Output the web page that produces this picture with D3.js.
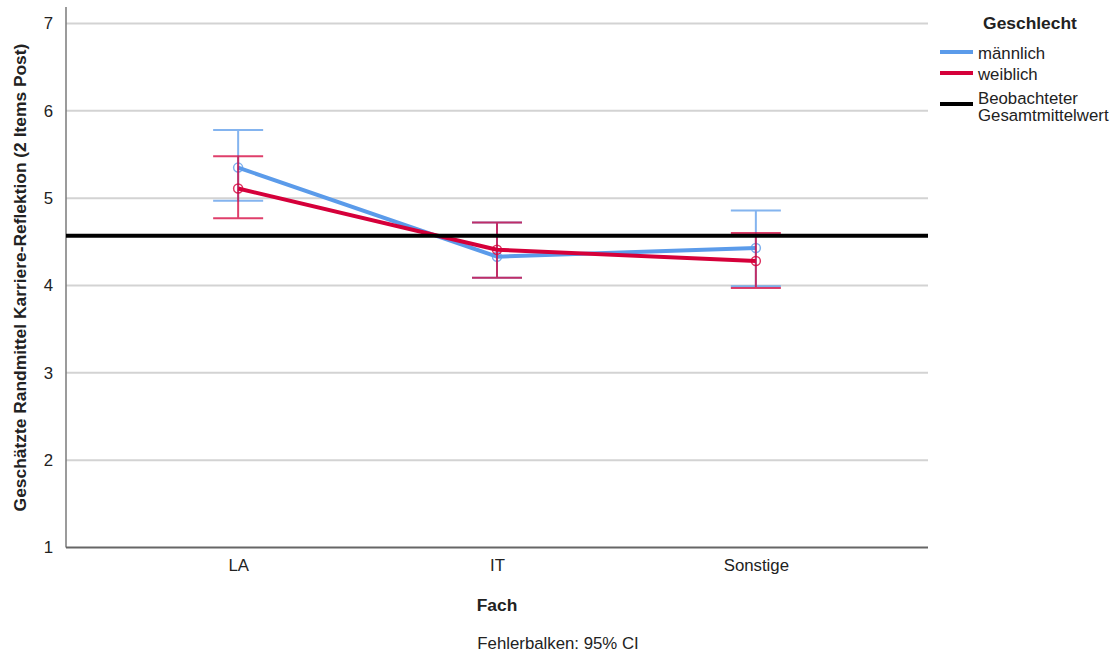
<!DOCTYPE html>
<html>
<head>
<meta charset="utf-8">
<script src="https://cdn.jsdelivr.net/npm/d3@7"></script>
<style>
  html, body { margin: 0; padding: 0; background: #fff; }
  svg { display: block; font-family: "Liberation Sans", Arial, sans-serif; }
</style>
</head>
<body>
<svg id="chart" width="1120" height="654"></svg>
<script>
// Fach categories and y ticks
const categories = ["LA", "IT", "Sonstige"];
const yTicks = [1, 2, 3, 4, 5, 6, 7];

// Estimated marginal means with 95% CI bounds per Geschlecht
const maleMean  = [5.35, 4.33, 4.43];
const maleLow   = [4.97, 4.09, 3.99];
const maleHigh  = [5.78, 4.72, 4.86];
const femaleMean = [5.11, 4.41, 4.28];
const femaleLow  = [4.77, 4.09, 3.97];
const femaleHigh = [5.48, 4.72, 4.60];

// Observed grand mean
const grandMean = 4.57;

const seriesNames = ["männlich", "weiblich"];

const svg = d3.select("#chart");
const plotLeft = 66, plotRight = 928, plotTop = 23.5, plotBottom = 547.5;
const fs = 16.8;
const fsBold = 17.4;

const x = d3.scalePoint().domain(categories).range([plotLeft, plotRight]).padding(0.665);
const y = d3.scaleLinear().domain([1, 7]).range([plotBottom, plotTop]);

const blue = "#5b9bea";
const red = "#d5003a";
const textCol = "#222";

// Gridlines
svg.append("g")
  .selectAll("line")
  .data(yTicks.filter(d => d > 1))
  .join("line")
  .attr("x1", plotLeft).attr("x2", plotRight)
  .attr("y1", d => y(d)).attr("y2", d => y(d))
  .attr("stroke", "#d3d3d3").attr("stroke-width", 2);

// Y axis
const yAxis = svg.append("g")
  .attr("transform", `translate(${plotLeft},0)`)
  .call(d3.axisLeft(y).tickValues(yTicks).tickSize(0).tickPadding(13).tickFormat(d3.format("d")));
yAxis.select(".domain").remove();
yAxis.selectAll("text").attr("font-size", fs).attr("fill", textCol)
  .attr("font-family", "Liberation Sans, Arial, sans-serif");
svg.append("line")
  .attr("x1", plotLeft).attr("x2", plotLeft).attr("y1", 7).attr("y2", plotBottom)
  .attr("stroke", "#7a7a7a").attr("stroke-width", 1.5);

// X axis
const xAxis = svg.append("g")
  .attr("transform", `translate(0,${plotBottom})`)
  .call(d3.axisBottom(x).tickSize(0).tickPadding(12));
xAxis.select(".domain").remove();
xAxis.selectAll("text").attr("font-size", fs).attr("fill", textCol)
  .attr("font-family", "Liberation Sans, Arial, sans-serif");
svg.append("line")
  .attr("x1", plotLeft).attr("x2", plotRight).attr("y1", plotBottom).attr("y2", plotBottom)
  .attr("stroke", "#666").attr("stroke-width", 2);

// Axis titles
svg.append("text")
  .attr("transform", `translate(26,${(plotTop + plotBottom) / 2 - 8}) rotate(-90)`)
  .attr("text-anchor", "middle")
  .attr("font-size", fsBold).attr("font-weight", "bold").attr("fill", textCol)
  .text("Geschätzte Randmittel Karriere-Reflektion (2 Items Post)");

svg.append("text")
  .attr("x", x("IT")).attr("y", 611)
  .attr("text-anchor", "middle")
  .attr("font-size", fsBold).attr("font-weight", "bold").attr("fill", textCol)
  .text("Fach");

svg.append("text")
  .attr("x", 558).attr("y", 649)
  .attr("text-anchor", "middle")
  .attr("font-size", fs).attr("fill", textCol)
  .text("Fehlerbalken: 95% CI");

// Series
const series = [
  { name: seriesNames[0], color: blue, mean: maleMean, low: maleLow, high: maleHigh },
  { name: seriesNames[1], color: red, mean: femaleMean, low: femaleLow, high: femaleHigh }
];

const capHalf = 25;
series.forEach(s => {
  const g = svg.append("g");
  const pts = categories.map((c, i) => ({ c, m: s.mean[i], lo: s.low[i], hi: s.high[i] }));
  // Error bars
  const eb = g.append("g").attr("stroke", s.color).attr("stroke-width", 2).attr("opacity", 0.75);
  eb.selectAll("line.v").data(pts).join("line").attr("class", "v")
    .attr("x1", d => x(d.c)).attr("x2", d => x(d.c))
    .attr("y1", d => y(d.lo)).attr("y2", d => y(d.hi));
  eb.selectAll("line.hi").data(pts).join("line").attr("class", "hi")
    .attr("x1", d => x(d.c) - capHalf).attr("x2", d => x(d.c) + capHalf)
    .attr("y1", d => y(d.hi)).attr("y2", d => y(d.hi));
  eb.selectAll("line.lo").data(pts).join("line").attr("class", "lo")
    .attr("x1", d => x(d.c) - capHalf).attr("x2", d => x(d.c) + capHalf)
    .attr("y1", d => y(d.lo)).attr("y2", d => y(d.lo));
  // Line of means
  g.append("path")
    .datum(pts)
    .attr("fill", "none").attr("stroke", s.color).attr("stroke-width", 4)
    .attr("stroke-linejoin", "round")
    .attr("d", d3.line().x(d => x(d.c)).y(d => y(d.m)));
  // Markers
  g.selectAll("circle").data(pts).join("circle")
    .attr("cx", d => x(d.c)).attr("cy", d => y(d.m)).attr("r", 4.5)
    .attr("fill", "none").attr("stroke", s.color).attr("stroke-width", 1.5).attr("opacity", 0.8);
});

// Grand mean reference line
svg.append("line")
  .attr("x1", plotLeft).attr("x2", plotRight)
  .attr("y1", y(grandMean)).attr("y2", y(grandMean))
  .attr("stroke", "#000").attr("stroke-width", 4);

// Legend
const lg = svg.append("g");
lg.append("text").attr("x", 1030).attr("y", 29).attr("text-anchor", "middle")
  .attr("font-size", fsBold).attr("font-weight", "bold").attr("fill", textCol).text("Geschlecht");
const legendItems = [
  { label: [seriesNames[0]], color: blue, y: 52 },
  { label: [seriesNames[1]], color: red, y: 73 },
  { label: ["Beobachteter", "Gesamtmittelwert"], color: "#000", y: 104 }
];
legendItems.forEach(it => {
  lg.append("line").attr("x1", 940).attr("x2", 973).attr("y1", it.y).attr("y2", it.y)
    .attr("stroke", it.color).attr("stroke-width", 4);
  if (it.label.length === 1) {
    lg.append("text").attr("x", 978).attr("y", it.y + 7)
      .attr("font-size", fs).attr("fill", textCol).text(it.label[0]);
  } else {
    lg.append("text").attr("x", 978).attr("y", it.y)
      .attr("font-size", fs).attr("fill", textCol).text(it.label[0]);
    lg.append("text").attr("x", 978).attr("y", it.y + 17)
      .attr("font-size", fs).attr("fill", textCol).text(it.label[1]);
  }
});
</script>
</body>
</html>
